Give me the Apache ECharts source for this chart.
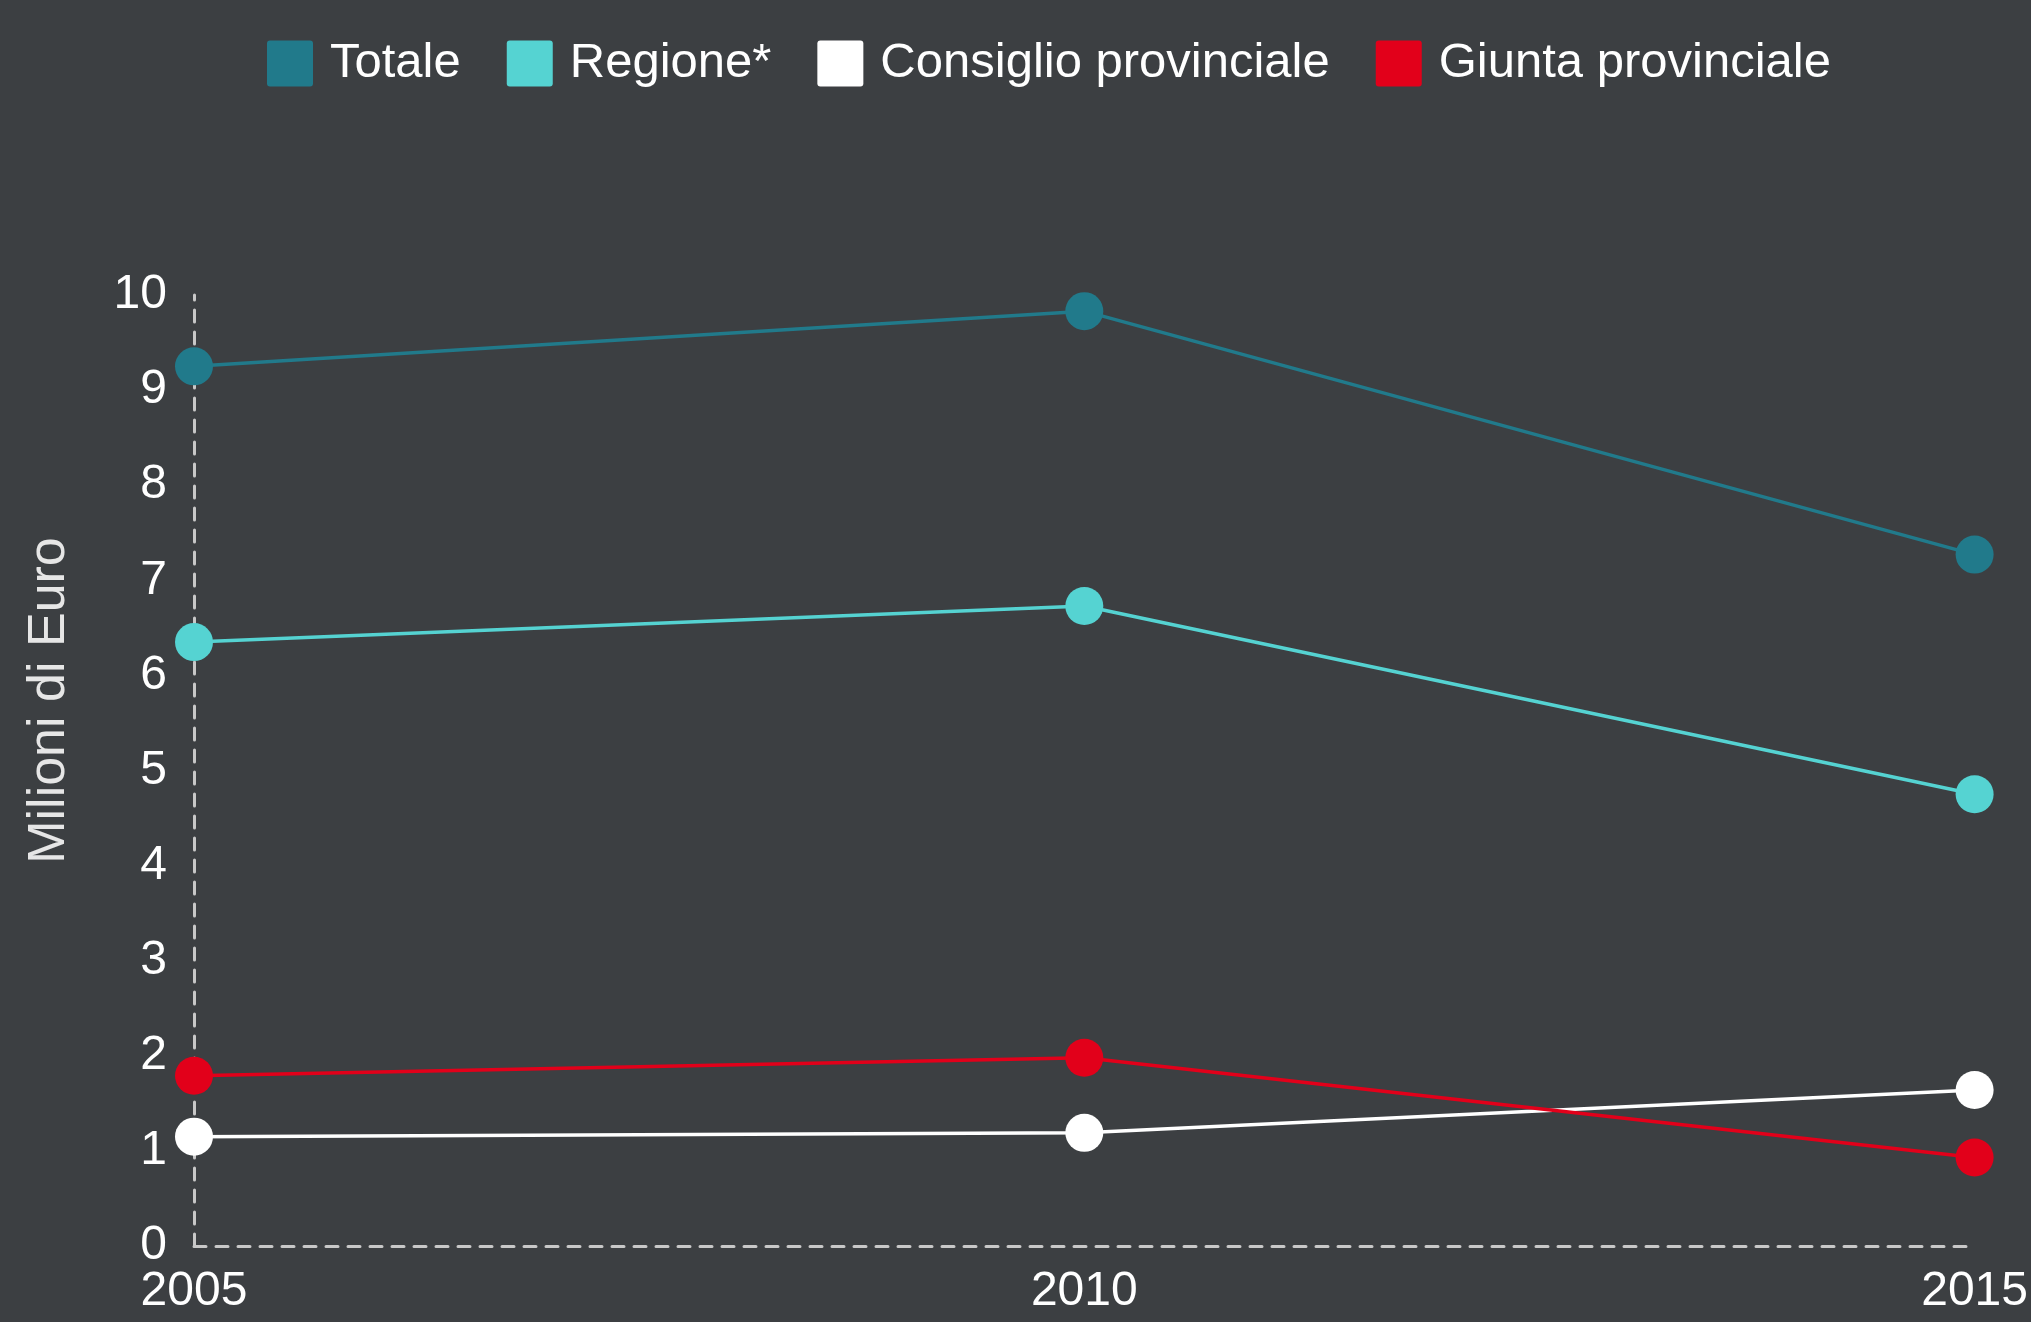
<!DOCTYPE html>
<html>
<head>
<meta charset="utf-8">
<script src="https://cdn.jsdelivr.net/npm/echarts@6/dist/echarts.min.js"></script>
<style>
html,body{margin:0;padding:0;background:#3c3f42;}
#chart{width:2031px;height:1322px;}
</style>
</head>
<body>
<div id="chart"></div>
<script>
const years = ['2005', '2010', '2015'];
const seriesNames = ['Totale', 'Regione*', 'Consiglio provinciale', 'Giunta provinciale'];
const totale = [9.25, 9.83, 7.27];
const regione = [6.35, 6.73, 4.75];
const consiglio = [1.15, 1.19, 1.64];
const giunta = [1.79, 1.98, 0.93];
const colors = ['#217a8b', '#55d3d2', '#ffffff', '#e2001a'];
const yTicks = { min: 0, max: 10, interval: 1 };
const yAxisName = 'Milioni di Euro';

const values = [totale, regione, consiglio, giunta];
const font = 'Liberation Sans, Arial, sans-serif';

const chart = echarts.init(document.getElementById('chart'), null, { renderer: 'canvas' });
chart.setOption({
  backgroundColor: '#3c3f42',
  animation: false,
  color: colors,
  textStyle: { fontFamily: font },
  legend: {
    data: seriesNames,
    left: 262,
    top: 34,
    itemWidth: 46,
    itemHeight: 46,
    itemGap: 46,
    icon: 'path://M3,0 H43 Q46,0 46,3 V43 Q46,46 43,46 H3 Q0,46 0,43 V3 Q0,0 3,0 Z',
    textStyle: { color: '#ffffff', fontSize: 49, fontFamily: font, padding: [0, 0, 0, 12] }
  },
  grid: { left: 194, right: 56, top: 295, bottom: 76, containLabel: false },
  xAxis: {
    type: 'category',
    data: years,
    boundaryGap: false,
    axisLine: { show: true, lineStyle: { color: '#c8c8c8', width: 3, type: [12, 10] } },
    axisTick: { show: false },
    splitLine: { show: false },
    axisLabel: { color: '#ffffff', fontSize: 48, fontFamily: font, margin: 22 }
  },
  yAxis: {
    type: 'value',
    min: yTicks.min,
    max: yTicks.max,
    interval: yTicks.interval,
    name: yAxisName,
    nameLocation: 'middle',
    nameGap: 118,
    nameRotate: 90,
    nameTextStyle: { color: '#e6e6e6', fontSize: 52, fontFamily: font, padding: [0, 0, 0, 140] },
    axisLine: { show: true, lineStyle: { color: '#c8c8c8', width: 3, type: [12, 10] } },
    axisTick: { show: false },
    splitLine: { show: false },
    axisLabel: { color: '#ffffff', fontSize: 48, fontFamily: font, margin: 27 }
  },
  series: seriesNames.map((name, i) => ({
    name: name,
    type: 'line',
    data: values[i],
    symbol: 'circle',
    symbolSize: 38,
    lineStyle: { width: 3.5, color: colors[i] },
    itemStyle: { color: colors[i] },
    emphasis: { disabled: true }
  }))
});
</script>
</body>
</html>
